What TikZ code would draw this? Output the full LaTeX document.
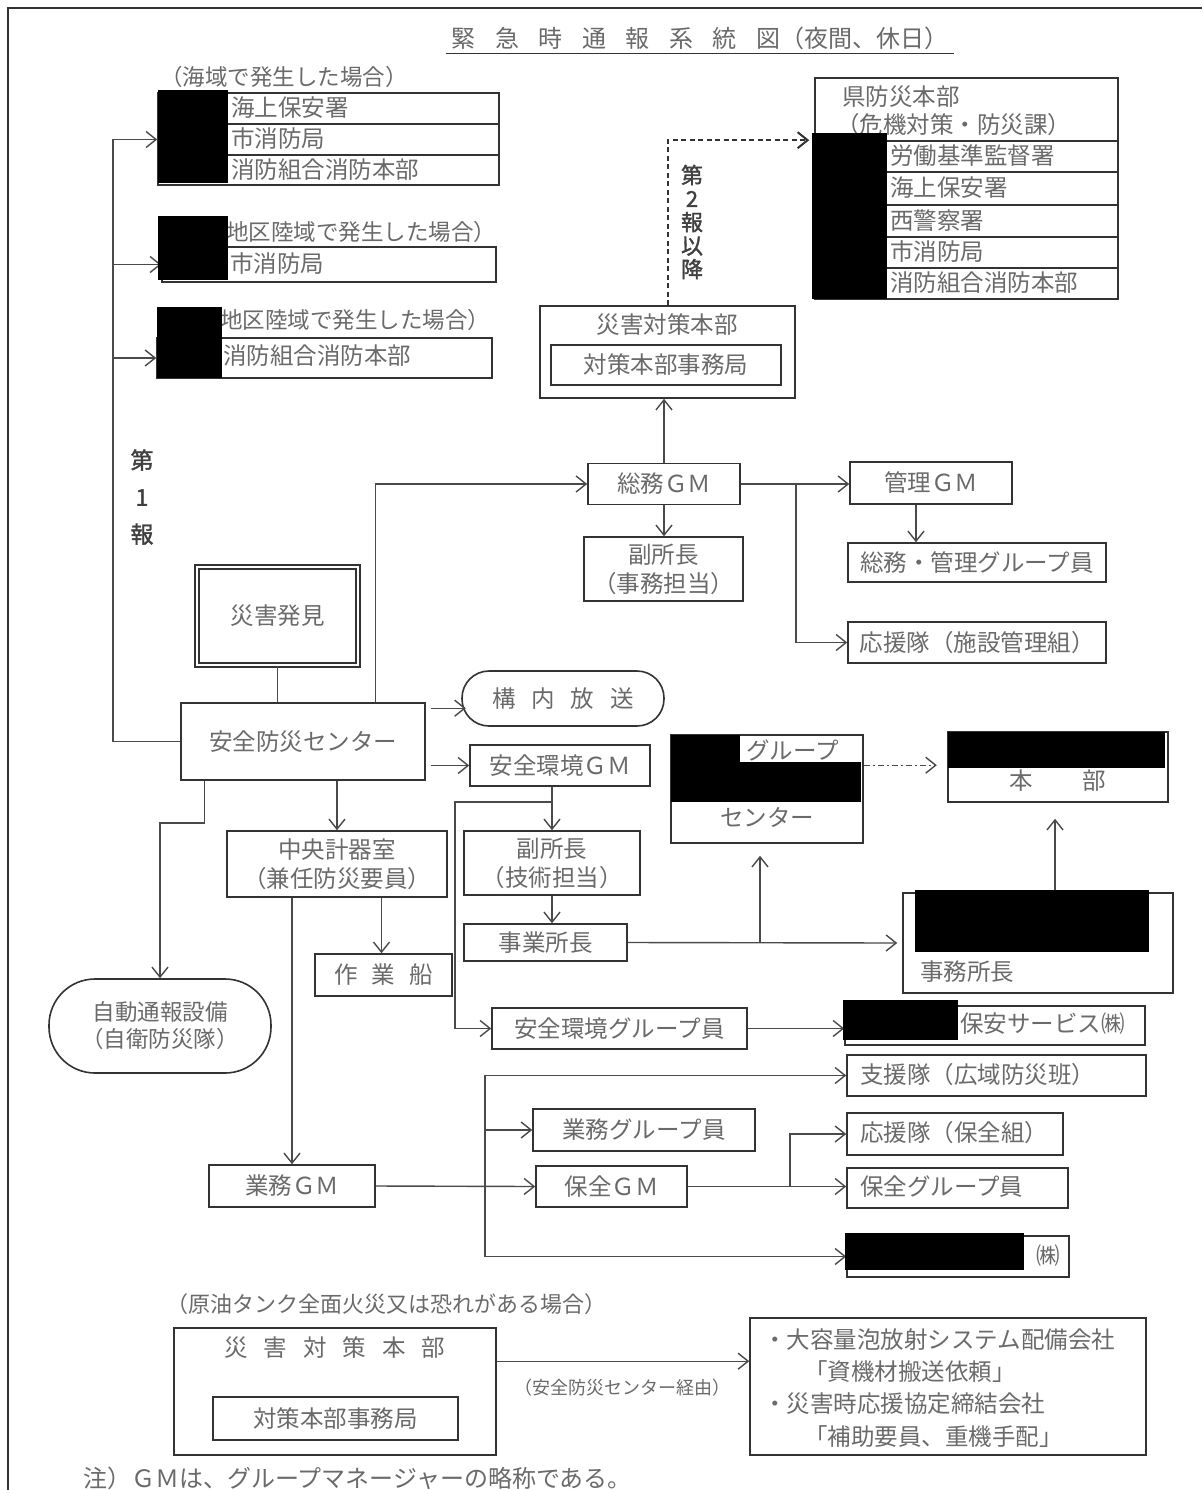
\documentclass[tikz,border=0pt]{standalone}
\usepackage{fontspec}
\newfontfamily\jp{Noto Sans CJK JP}
\newfontfamily\jpb[FakeBold=1.5]{Noto Sans CJK JP}
\usetikzlibrary{arrows.meta,calc}
\definecolor{ink}{HTML}{6A6A6A}
\definecolor{edge}{HTML}{333333}
\definecolor{wire}{HTML}{4A4A4A}
\newcommand{\gapx}{\hspace{16pt}}
\newcommand{\tgap}{\hspace{19.5pt}}
\begin{document}
\begin{tikzpicture}[x=1pt,y=-1pt,
  every node/.style={inner sep=0pt, text=ink, font=\jp\fontsize{23.5}{29}\selectfont},
  box/.style={draw=edge, line width=1.6pt},
  conn/.style={draw=wire, line width=1.4pt},
  arr/.style={conn, -{Straight Barb[length=10pt,width=16pt]}},
  darr/.style={arr, dash pattern=on 5pt off 3.5pt, line width=2pt, draw=edge},
  ddarr/.style={arr, dash pattern=on 6pt off 3pt on 2pt off 3pt},
  redact/.style={fill=black},
  lbl/.style={anchor=west},
  caselbl/.style={anchor=west, font=\jp\fontsize{22.5}{27}\selectfont},
  small/.style={font=\jp\fontsize{18}{22}\selectfont},
  vert/.style={text=black!75, align=center},
  ]
\useasboundingbox (0,0) rectangle (1202,1490);
\fill[white] (0,0) rectangle (1202,1490);
% sheet frame
\draw[edge, line width=1.8pt] (1202,8) -- (8,8) -- (8,1490);

% heading
\node[font=\jp\fontsize{24}{28}\selectfont, inner xsep=6pt, inner ysep=4pt] (title) at (700,38)
  {緊\tgap 急\tgap 時\tgap 通\tgap 報\tgap 系\tgap 統\tgap 図（夜間、休日）};
\draw[edge, line width=1.5pt] (title.south west) -- (title.south east);

% ---------- outside agencies, first report ----------
\node[caselbl] (seaLbl) at (160,77) {（海域で発生した場合）};
\node[box, minimum width=341pt, minimum height=31pt] (a1) at (328.5,108.5) {};
\node[box, minimum width=341pt, minimum height=31pt] (a2) at (328.5,139.5) {};
\node[box, minimum width=341pt, minimum height=30pt] (a3) at (328.5,170) {};
\node[lbl] (a1t) at (231,108) {海上保安署};
\node[lbl] (a2t) at (231,139) {市消防局};
\node[lbl] (a3t) at (231,170) {消防組合消防本部};

\node[caselbl] (bLbl) at (226,232) {地区陸域で発生した場合）};
\node[box, minimum width=334pt, minimum height=35pt] (b1) at (329,264.5) {};
\node[lbl] (b1t) at (230,264) {市消防局};

\node[caselbl] (cLbl) at (220,320) {地区陸域で発生した場合）};
\node[box, minimum width=335pt, minimum height=40pt] (c1) at (324.5,358) {};
\node[lbl] (c1t) at (223,356) {消防組合消防本部};

\node[vert, font=\jpb\fontsize{23}{37}\selectfont] (dai1) at (142,497) {第\\1\\報};

% ---------- prefecture and others, second report ----------
\node[box, minimum width=303pt, minimum height=63pt] (kenH) at (966.5,109.5) {};
\node[lbl] (kenT1) at (842,97) {県防災本部};
\node[lbl] (kenT2) at (836,125) {（危機対策・防災課）};
\node[box, minimum width=303pt, minimum height=31pt] (k1) at (966.5,156.5) {};
\node[box, minimum width=303pt, minimum height=33pt] (k2) at (966.5,188.5) {};
\node[box, minimum width=303pt, minimum height=32pt] (k3) at (966.5,221) {};
\node[box, minimum width=303pt, minimum height=31pt] (k4) at (966.5,252.5) {};
\node[box, minimum width=303pt, minimum height=31pt] (k5) at (966.5,283.5) {};
\node[lbl] (k1t) at (890,156) {労働基準監督署};
\node[lbl] (k2t) at (890,188) {海上保安署};
\node[lbl] (k3t) at (890,221) {西警察署};
\node[lbl] (k4t) at (890,252) {市消防局};
\node[lbl] (k5t) at (890,283) {消防組合消防本部};

\node[vert, font=\jpb\fontsize{22}{23.5}\selectfont] (dai2) at (692,222) {第\\2\\報\\以\\降};

% ---------- headquarters ----------
\node[box, minimum width=255pt, minimum height=92pt] (saigai) at (667.5,352) {};
\node (saigaiT) at (667,325) {災害対策本部};
\node[box, minimum width=230pt, minimum height=40pt] (saigaiIn) at (666,365) {対策本部事務局};

\node[box, minimum width=152pt, minimum height=41pt] (somu) at (664,484) {総務ＧＭ};
\node[box, minimum width=159pt, minimum height=64pt, align=center] (fuku1) at (663.5,569) {副所長\\（事務担当）};
\node[box, minimum width=162pt, minimum height=42pt] (kanri) at (931,483) {管理ＧＭ};
\node[box, minimum width=258pt, minimum height=39pt] (somukanri) at (977,562.5) {総務・管理グループ員};
\node[box, minimum width=258pt, minimum height=41pt] (ouen1) at (977,642.5) {応援隊（施設管理組）};

% ---------- discovery and safety centre ----------
\node[box, line width=2pt, double=white, double distance=2pt, minimum width=161pt, minimum height=98pt] (hakken) at (277.5,616) {災害発見};
\node[box, minimum width=244pt, minimum height=77pt] (center) at (303,741.5) {安全防災センター};
\node[box, rounded corners=27pt, minimum width=202pt, minimum height=55pt] (koku) at (563,698.5) {構\gapx 内\gapx 放\gapx 送};
\node[box, minimum width=180pt, minimum height=41pt] (anzenGM) at (560,765.5) {安全環境ＧＭ};

\node[box, minimum width=220pt, minimum height=66pt, align=center] (chuo) at (337,864) {中央計器室\\（兼任防災要員）};
\node[box, rounded corners=46pt, minimum width=222pt, minimum height=94pt, align=center, font=\jp\fontsize{22.5}{27}\selectfont] (jido) at (160,1026) {自動通報設備\\（自衛防災隊）};
\node[box, minimum width=137pt, minimum height=42pt] (sagyo) at (383.5,975) {作\hspace{14pt}業\hspace{14pt}船};
\node[box, minimum width=166pt, minimum height=42pt] (gyomuGM) at (292,1186) {業務ＧＭ};

\node[box, minimum width=176pt, minimum height=64pt, align=center] (fuku2) at (552,863) {副所長\\（技術担当）};
\node[box, minimum width=163pt, minimum height=37pt] (jigyo) at (545.5,942.5) {事業所長};

\node[box, minimum width=192pt, minimum height=108pt] (gc) at (767,789) {};
\node[lbl] (gcT1) at (746,750) {グループ};
\node (gcT2) at (767,817) {センター};
\node[box, minimum width=220pt, minimum height=70pt] (honbu) at (1058,767) {};
\node (honbuT) at (1058,781) {本\hspace{50pt}部};
\node[box, minimum width=270pt, minimum height=100pt] (jimusho) at (1038,943) {};
\node[lbl] (jimushoT) at (920,972) {事務所長};

\node[box, minimum width=255pt, minimum height=41pt] (anzenG) at (619.5,1028.5) {安全環境グループ員};
\node[box, minimum width=300pt, minimum height=39pt] (hoan) at (995,1025.5) {};
\node[lbl] (hoanT) at (960,1024) {保安サービス㈱};
\node[box, minimum width=299pt, minimum height=41pt] (shien) at (996.5,1075.5) {};
\node[lbl] (shienT) at (860,1075) {支援隊（広域防災班）};
\node[box, minimum width=222pt, minimum height=42pt] (gyomuG) at (644,1130) {業務グループ員};
\node[box, minimum width=151pt, minimum height=41pt] (hozenGM) at (611.5,1186.5) {保全ＧＭ};
\node[box, minimum width=216pt, minimum height=42pt] (ouen2) at (955,1134) {};
\node[lbl] (ouen2T) at (860,1133) {応援隊（保全組）};
\node[box, minimum width=221pt, minimum height=40pt] (hozenG) at (957.5,1188) {};
\node[lbl] (hozenGT) at (860,1187) {保全グループ員};
\node[box, minimum width=222pt, minimum height=41pt] (kabu) at (958,1256.5) {};
\node[anchor=east] (kabuT) at (1060,1256) {㈱};

% ---------- crude tank full-surface fire ----------
\node[caselbl, font=\jp\fontsize{22}{27}\selectfont] (tankLbl) at (166,1304) {（原油タンク全面火災又は恐れがある場合）};
\node[box, minimum width=322pt, minimum height=127pt] (saigai2) at (335,1391.5) {};
\node (saigai2T) at (335,1348) {災\gapx 害\gapx 対\gapx 策\gapx 本\gapx 部};
\node[box, minimum width=245pt, minimum height=43pt] (saigai2In) at (335.5,1418.5) {対策本部事務局};
\node[box, minimum width=396pt, minimum height=137pt] (req) at (948,1386.5) {};
\node[lbl] (reqT1) at (763,1340) {・大容量泡放射システム配備会社};
\node[lbl] (reqT2) at (804,1372) {「資機材搬送依頼」};
\node[lbl] (reqT3) at (763,1404) {・災害時応援協定締結会社};
\node[lbl] (reqT4) at (804,1437) {「補助要員、重機手配」};
\node[small] (via) at (622,1388) {（安全防災センター経由）};

\node[lbl, font=\jp\fontsize{24}{28}\selectfont] (note) at (83,1478) {注）ＧＭは、グループマネージャーの略称である。};

% ---------- connectors ----------
\coordinate (tA) at (113,139.5);
\coordinate (tB) at (113,264.5);
\coordinate (tC) at (113,358);
\draw[conn] (center.west) -| (tA);
\draw[arr] (tA) -- (a2.west);
\draw[arr] (tB) -- (b1.west);
\draw[arr] (tC) -- (c1.west);

\draw[darr] (saigai.north) |- ($(k1.north west)+(-5,0)$);
\draw[conn] (hakken.south) -- (hakken.south |- center.north);
\draw[arr] ($(center.north west)+(195,0)$) |- (somu.west);
\draw[arr] (somu.north) -- (somu.north |- saigai.south);
\draw[arr] (somu.south) -- (somu.south |- fuku1.north);
\draw[arr] (somu.east) -- (kanri.west |- somu.east);
\draw[arr] ($(somu.east)+(55,0)$) |- (ouen1.west);
\coordinate (kd) at ($(kanri.south)+(-15,0)$);
\draw[arr] (kd) -- (kd |- somukanri.north);

\coordinate (cKoku) at ($(center.north east)+(5,6)$);
\draw[arr] (cKoku) -- ++(35,0);
\draw[arr] ($(center.east |- anzenGM.west)+(5,0)$) -- (anzenGM.west);
\draw[arr] (chuo.north |- center.south) -- (chuo.north);
\draw[arr] ($(center.south west)+(24,0)$) -- ++(0,42) -| (jido.north);
\draw[arr] (gyomuGM.north |- chuo.south) -- (gyomuGM.north);
\draw[arr] ($(sagyo.north |- chuo.south)+(-2,0)$) -- ($(sagyo.north)+(-2,0)$);

\coordinate (ag) at (fuku2.north |- anzenGM.south);
\draw[arr] (ag) -- (fuku2.north);
\draw[arr] ($(ag)+(0,15)$) -- ++(-97,0) |- (anzenG.west);
\draw[arr] (fuku2.south) -- (fuku2.south |- jigyo.north);
\draw[arr] (jigyo.east) -- ($(jimusho.west)+(-5,0)$);
\coordinate (jb) at ($(jigyo.east -| gc.south)+(-7,0)$);
\draw[arr] (jb) -- ($(gc.south)+(-7,12)$);
\draw[ddarr] ($(gc.north east)+(0,31)$) -- ++(73,0);
\draw[arr] ($(jimusho.north)+(17,0)$) -- ($(honbu.south)+(-3,16)$);

\draw[arr] (anzenG.east) -- (hoan.west |- anzenG.east);
\coordinate (brBot) at (485,1256.5);
\draw[arr] (brBot) |- (shien.west);
\draw[arr] (brBot) -- (kabu.west);
\draw[arr] (brBot |- gyomuG.west) -- (gyomuG.west);
\draw[arr] (gyomuGM.east) -- (hozenGM.west);
\draw[arr] (hozenGM.east) -- (hozenG.west |- hozenGM.east);
\draw[arr] ($(hozenGM.east)+(102,0)$) |- (ouen2.west);

\coordinate (bArr) at ($(saigai2.north east)+(0,34)$);
\draw[arr] (bArr) -- (bArr -| req.west);

% ---------- masked names ----------
\fill[redact] (158,90) rectangle (228,183);
\fill[redact] (158,216) rectangle (228,280);
\fill[redact] (157,307) rectangle (222,378);
\fill[redact] (812,133) rectangle (887,299);
\fill[redact] (671,735) rectangle (740,762);
\fill[redact] (671,762) rectangle (861,802);
\fill[redact] (948,732) rectangle (1165,768);
\fill[redact] (915,890) rectangle (1149,952);
\fill[redact] (843,1000) rectangle (958,1040);
\fill[redact] (845,1233) rectangle (1024,1270);
\end{tikzpicture}
\end{document}
